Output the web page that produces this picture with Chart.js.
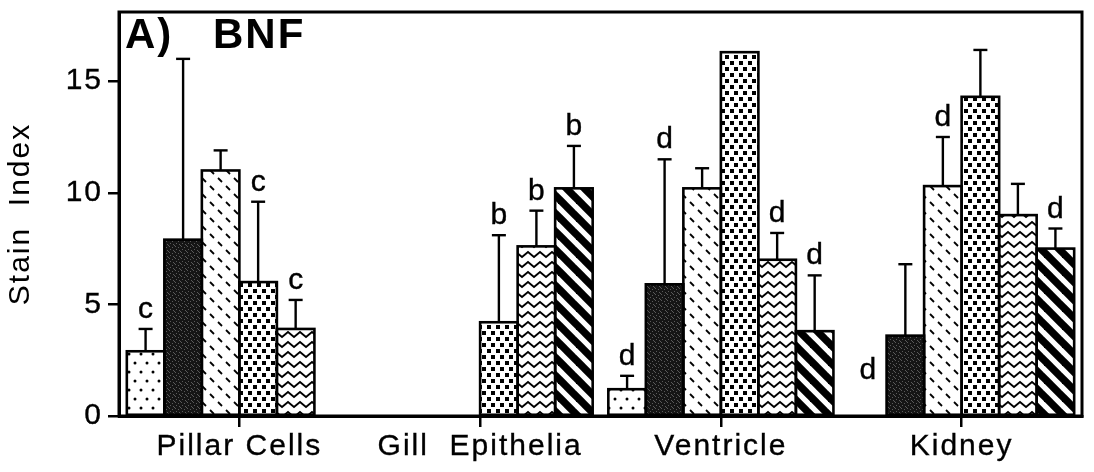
<!DOCTYPE html>
<html>
<head>
<meta charset="utf-8">
<script src="https://cdn.jsdelivr.net/npm/chart.js@4.4.1/dist/chart.umd.min.js"></script>
<style>
  html, body { margin: 0; padding: 0; background: #fff; }
  #wrap { width: 1094px; height: 472px; }
</style>
</head>
<body>
<div id="wrap"><canvas id="chart" width="1094" height="472"></canvas></div>
<script>
// Tissue categories along the x axis
const categories = ['Pillar Cells', 'Gill  Epithelia', 'Ventricle', 'Kidney'];

// Mean stain index per treatment group (null = not measured)
const dotted    = [2.9, null, 1.2, 0];
const solid     = [7.9, null, 5.9, 3.6];
const dashed    = [11.0, null, 10.2, 10.3];
const checkered = [6.0, 4.2, 16.3, 14.3];
const wavy      = [3.9, 7.6, 7.0, 9.0];
const striped   = [null, 10.2, 3.8, 7.5];

// Upper error (SD) per bar
const dottedErr    = [1.0, null, 0.6, 0];
const solidErr     = [8.1, null, 5.6, 3.2];
const dashedErr    = [0.9, null, 0.9, 2.2];
const checkeredErr = [3.6, 3.9, 0, 2.1];
const wavyErr      = [1.3, 1.6, 1.2, 1.4];
const stripedErr   = [null, 1.9, 2.5, 0.9];

// Significance letters above bars
const dottedSig    = ['c', '', 'd', 'd'];
const solidSig     = ['', '', 'd', ''];
const dashedSig    = ['', '', '', 'd'];
const checkeredSig = ['c', 'b', '', ''];
const wavySig      = ['c', 'b', 'd', ''];
const stripedSig   = ['', 'b', 'd', 'd'];

// Y axis tick values
const yTickValues = [0, 5, 10, 15];

const FONT = '"Liberation Sans", Arial, Helvetica, sans-serif';
const canvas = document.getElementById('chart');
const ctx = canvas.getContext('2d');

function makePattern(w, h, paint) {
  const c = document.createElement('canvas');
  c.width = w; c.height = h;
  const g = c.getContext('2d');
  g.fillStyle = '#fff';
  g.fillRect(0, 0, w, h);
  g.fillStyle = '#000';
  g.strokeStyle = '#000';
  paint(g, w, h);
  return ctx.createPattern(c, 'repeat');
}

const fills = {
  dotted: makePattern(12, 18, g => {
    g.beginPath(); g.arc(3, 3, 1.5, 0, Math.PI * 2); g.fill();
    g.beginPath(); g.arc(9, 12, 1.5, 0, Math.PI * 2); g.fill();
  }),
  solid: makePattern(6, 6, g => {
    g.fillStyle = '#151515'; g.fillRect(0, 0, 6, 6);
    g.fillStyle = '#5a5a5a';
    [[1, 0], [4, 1], [2, 3], [5, 4], [0, 5]].forEach(p => g.fillRect(p[0], p[1], 1, 1));
  }),
  dashed: makePattern(16, 16, g => {
    g.lineWidth = 1.8;
    g.beginPath(); g.moveTo(2, 10); g.lineTo(6, 14); g.stroke();
    g.beginPath(); g.moveTo(10, 2); g.lineTo(14, 6); g.stroke();
  }),
  checkered: makePattern(9, 12, g => {
    g.fillRect(1, 1, 4, 4);
    g.fillRect(5, 7, 4, 4);
  }),
  wavy: makePattern(12, 10, g => {
    g.lineWidth = 1.8;
    g.beginPath();
    g.moveTo(-6, 7); g.lineTo(0, 2); g.lineTo(6, 7); g.lineTo(12, 2); g.lineTo(18, 7);
    g.stroke();
  }),
  striped: makePattern(18, 18, g => {
    g.lineWidth = 7.5;
    for (let k = -2; k <= 2; k++) {
      g.beginPath(); g.moveTo(k * 18 - 18, -18); g.lineTo(k * 18 + 36, 36); g.stroke();
    }
  })
};

const series = [
  { name: 'Group 1', data: dotted,    err: dottedErr,    sig: dottedSig,    fill: fills.dotted },
  { name: 'Group 2', data: solid,     err: solidErr,     sig: solidSig,     fill: fills.solid },
  { name: 'Group 3', data: dashed,    err: dashedErr,    sig: dashedSig,    fill: fills.dashed },
  { name: 'Group 4', data: checkered, err: checkeredErr, sig: checkeredSig, fill: fills.checkered },
  { name: 'Group 5', data: wavy,      err: wavyErr,      sig: wavySig,      fill: fills.wavy },
  { name: 'Group 6', data: striped,   err: stripedErr,   sig: stripedSig,   fill: fills.striped }
];

// Sets text spacing for the axis labels
const spacingPlugin = {
  id: 'spacing',
  beforeDraw(chart) { chart.ctx.letterSpacing = '2px'; },
  afterDraw(chart) { chart.ctx.letterSpacing = '0px'; }
};

// Outlines, error bars and significance letters
const barExtras = {
  id: 'barExtras',
  afterDatasetsDraw(chart) {
    const c = chart.ctx;
    const yScale = chart.scales.y;
    const zeroPx = yScale.getPixelForValue(0);
    c.save();
    c.strokeStyle = '#000';
    c.fillStyle = '#000';
    series.forEach((s, i) => {
      const meta = chart.getDatasetMeta(i);
      meta.data.forEach((el, j) => {
        const v = s.data[j];
        if (v === null || v === undefined) return;
        const p = el.getProps(['x', 'y', 'base', 'width'], true);
        // outline
        if (v > 0) {
          c.lineWidth = 2.6;
          c.strokeRect(p.x - p.width / 2, p.y, p.width, p.base - p.y);
        }
        // error bar
        const e = s.err[j] || 0;
        const topPx = yScale.getPixelForValue(v + e);
        if (e > 0) {
          c.lineWidth = 2.4;
          c.beginPath(); c.moveTo(p.x, p.y); c.lineTo(p.x, topPx); c.stroke();
          c.beginPath(); c.moveTo(p.x - 7, topPx); c.lineTo(p.x + 7, topPx); c.stroke();
        }
        // letter
        const letter = s.sig[j];
        if (letter) {
          c.letterSpacing = '0px';
          c.font = '30px ' + FONT;
          c.textAlign = 'center';
          c.textBaseline = 'alphabetic';
          c.lineWidth = 0.4;
          const yb = Math.min(topPx, zeroPx - 26) - 11;
          c.fillText(letter, p.x, yb);
          c.strokeText(letter, p.x, yb);
        }
      });
    });
    c.restore();
  },
  afterDraw(chart) {
    const c = chart.ctx;
    const a = chart.chartArea;
    c.save();
    c.strokeStyle = '#000';
    c.lineWidth = 3;
    c.strokeRect(a.left, a.top, a.right - a.left, a.bottom - a.top);
    c.fillStyle = '#000';
    c.letterSpacing = '2px';
    c.font = 'bold 42px ' + FONT;
    c.textAlign = 'left';
    c.textBaseline = 'alphabetic';
    c.fillText('A)', a.left + 6, 48);
    c.fillText('BNF', a.left + 94, 48);
    c.restore();
  }
};

new Chart(ctx, {
  type: 'bar',
  data: {
    labels: categories,
    datasets: series.map(s => ({
      label: s.name,
      data: s.data,
      backgroundColor: s.fill,
      borderWidth: 0,
      categoryPercentage: 0.935,
      barPercentage: 1.0
    }))
  },
  options: {
    responsive: false,
    animation: false,
    events: [],
    layout: { padding: { top: 12, right: 12, left: 0, bottom: 0 } },
    plugins: { legend: { display: false }, tooltip: { enabled: false } },
    scales: {
      x: {
        grid: { display: true, drawOnChartArea: false, drawTicks: true, tickLength: 11, offset: false, color: '#000', lineWidth: 2.5 },
        border: { display: true, color: '#000', width: 3 },
        ticks: { font: { family: FONT, size: 30 }, color: '#000', padding: 2, maxRotation: 0, autoSkip: false, textStrokeColor: '#000', textStrokeWidth: 0.35 },
        afterFit(scale) { scale.height = 56; scale.paddingLeft = 0; scale.paddingRight = 0; }
      },
      y: {
        min: 0,
        max: 18.1,
        afterBuildTicks(scale) { scale.ticks = yTickValues.map(v => ({ value: v })); },
        grid: { display: true, drawOnChartArea: false, drawTicks: true, tickLength: 11, color: '#000', lineWidth: 2.5 },
        border: { display: true, color: '#000', width: 3 },
        ticks: { font: { family: FONT, size: 30 }, color: '#000', padding: 5, textStrokeColor: '#000', textStrokeWidth: 0.35 },
        title: { display: true, text: 'Stain  Index', font: { family: FONT, size: 30 }, color: '#000', padding: { top: 3, bottom: 0 } },
        afterFit(scale) { scale.width = 119; scale.paddingTop = 0; scale.paddingBottom = 0; }
      }
    }
  },
  plugins: [spacingPlugin, barExtras]
});
</script>
</body>
</html>
